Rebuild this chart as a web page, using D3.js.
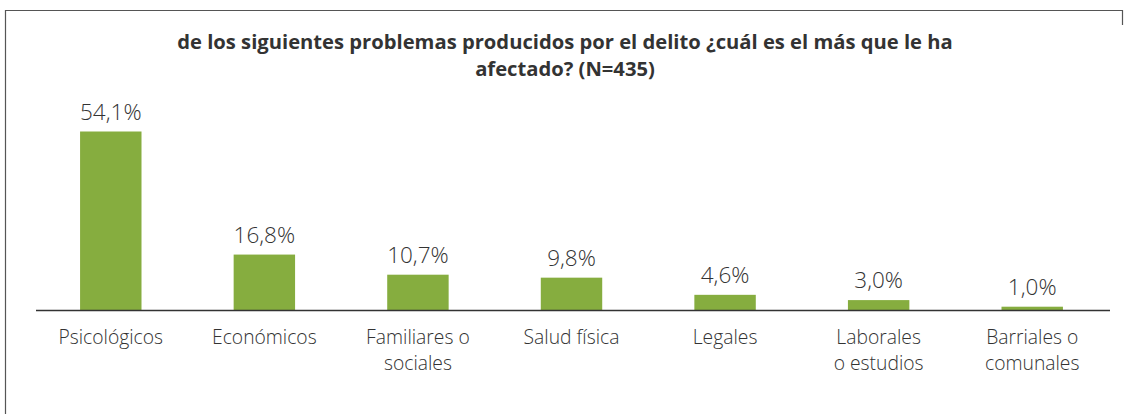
<!DOCTYPE html>
<html>
<head>
<meta charset="utf-8">
<script src="https://cdn.jsdelivr.net/npm/d3@7"></script>
<style>
  body { margin: 0; background: #fff; }
  svg text { font-family: "Open Sans", "Noto Sans", sans-serif; fill: #333; }
</style>
</head>
<body>
<svg id="chart" width="1129" height="414"></svg>
<script>
// data
var categories = [
    ['Psicológicos'],
    ['Económicos'],
    ['Familiares o', 'sociales'],
    ['Salud física'],
    ['Legales'],
    ['Laborales', 'o estudios'],
    ['Barriales o', 'comunales']
];
var values = [54.1, 16.8, 10.7, 9.8, 4.6, 3.0, 1.0];
var titleLines = [
    'de los siguientes problemas producidos por el delito ¿cuál es el más que le ha',
    'afectado? (N=435)'
];

var svg = d3.select('#chart'),
    baseY = 310;

// frame
svg.append('path')
    .attr('d', 'M5.5,414 L5.5,10.5 L1122.5,10.5 L1122.5,25')
    .attr('fill', 'none')
    .attr('stroke', '#555')
    .attr('stroke-width', 1.2);

// title
svg.append('text')
    .attr('text-anchor', 'middle')
    .attr('font-weight', 'bold')
    .attr('font-size', 20.2)
    .selectAll('tspan')
    .data(titleLines)
    .join('tspan')
        .attr('x', 565)
        .attr('y', function(d, i) { return 49 + i * 27; })
        .text(function(d) { return d; });

var x = d3.scaleBand()
    .domain(d3.range(values.length))
    .range([34, 1109])
    .paddingInner(0.6)
    .paddingOuter(0.3);

var y = d3.scaleLinear()
    .domain([0, 54.1])
    .range([baseY, 131.5]);

svg.append('g')
    .selectAll('rect')
    .data(values)
    .join('rect')
        .attr('x', function(d, i) { return x(i); })
        .attr('y', function(d) { return y(d); })
        .attr('width', x.bandwidth())
        .attr('height', function(d) { return baseY - y(d); })
        .attr('fill', '#86ad3f');

svg.append('g')
    .selectAll('text')
    .data(values)
    .join('text')
        .attr('x', function(d, i) { return x(i) + x.bandwidth() / 2; })
        .attr('y', function(d) { return y(d) - 12; })
        .attr('text-anchor', 'middle')
        .attr('font-size', 22.5)
        .attr('font-weight', 350)
        .text(function(d) { return d.toFixed(1).replace('.', ',') + '%'; });

// baseline
svg.append('line')
    .attr('x1', 36).attr('x2', 1110)
    .attr('y1', baseY + 0.5).attr('y2', baseY + 0.5)
    .attr('stroke', '#333')
    .attr('stroke-width', 1.5);

// category labels
svg.append('g')
    .selectAll('text')
    .data(categories)
    .join('text')
        .attr('text-anchor', 'middle')
        .attr('font-size', 19.3)
        .attr('font-weight', 350)
        .each(function(d, i) {
            d3.select(this).selectAll('tspan')
                .data(d)
                .join('tspan')
                    .attr('x', x(i) + x.bandwidth() / 2)
                    .attr('y', function(t, j) { return 344 + j * 26; })
                    .text(function(t) { return t; });
        });
</script>
</body>
</html>
